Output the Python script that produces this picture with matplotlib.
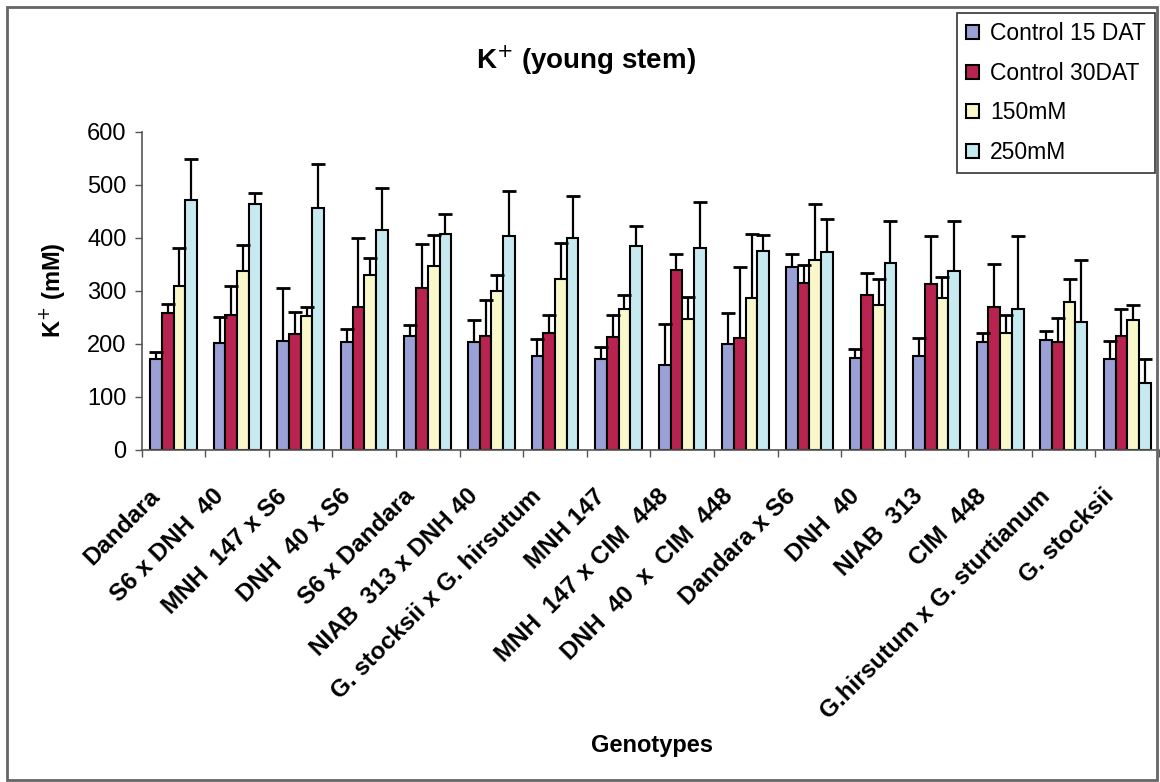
import numpy as np
import matplotlib
matplotlib.use('Agg')
import matplotlib.pyplot as plt
import matplotlib.transforms as mtransforms
from matplotlib.patches import Rectangle

plt.rcParams['font.family'] = ['Liberation Sans', 'DejaVu Sans']

genotypes = ['Dandara', 'S6 x DNH  40', 'MNH  147 x S6', 'DNH  40 x S6', 'S6 x Dandara',
             'NIAB  313 x DNH 40', 'G. stocksii x G. hirsutum', 'MNH 147',
             'MNH  147 x CIM  448', 'DNH  40  x  CIM  448', 'Dandara x S6', 'DNH  40',
             'NIAB  313', 'CIM  448', 'G.hirsutum x G. sturtianum', 'G. stocksii']

series = ['Control 15 DAT', 'Control 30DAT', '150mM', '250mM']
colors = ['#9ba1d6', '#b8244f', '#f8f8cb', '#c7eaf1']

ctrl15 = [171, 202, 205, 204, 214, 203, 178, 171, 160, 199, 344, 174, 177, 204, 207, 171]
ctrl15_sd = [13, 49, 100, 24, 21, 42, 32, 24, 77, 59, 25, 16, 34, 17, 18, 35]
ctrl30 = [258, 254, 218, 270, 305, 214, 220, 213, 339, 212, 314, 292, 312, 270, 203, 214]
ctrl30_sd = [17, 56, 43, 130, 84, 69, 34, 41, 30, 133, 35, 41, 91, 81, 45, 51]
salt150 = [310, 337, 252, 330, 347, 300, 322, 265, 247, 286, 359, 274, 287, 220, 278, 245]
salt150_sd = [70, 49, 18, 32, 59, 30, 69, 28, 42, 122, 104, 49, 39, 34, 44, 28]
salt250 = [471, 464, 457, 415, 407, 403, 399, 385, 380, 376, 373, 352, 337, 266, 242, 126]
salt250_sd = [77, 20, 83, 78, 37, 86, 79, 38, 87, 29, 62, 79, 94, 137, 116, 45]

values = [ctrl15, ctrl30, salt150, salt250]
sds = [ctrl15_sd, ctrl30_sd, salt150_sd, salt250_sd]

fig = plt.figure(figsize=(11.6, 7.82), dpi=100)
ax = fig.add_axes([0.1222, 0.4246, 0.8770, 0.4070])

x = np.arange(len(genotypes))
w = 0.184
for i, (vals, sd) in enumerate(zip(values, sds)):
    pos = x + (i - 1.5) * w
    ax.bar(pos, vals, width=w, color=colors[i], edgecolor='black', linewidth=1.5,
           label=series[i], zorder=2)
    eb = ax.errorbar(pos, vals, yerr=[np.zeros(len(sd)), sd], fmt='none', ecolor='black',
                     elinewidth=1.6, capsize=5, capthick=2, zorder=3)
    eb[1][0].set_visible(False)

ax.set_xlim(-0.5, len(genotypes) - 0.5)
ax.set_ylim(0, 600)
ax.set_yticks(range(0, 601, 100))
ax.tick_params(axis='y', labelsize=17, length=5, width=1, color='#555555', pad=6)
ax.set_xticks(x)
ax.set_xticklabels(genotypes, rotation=45, ha='right', va='top', rotation_mode='anchor',
                   fontsize=17.5, fontweight='bold')
ax.tick_params(axis='x', which='major', length=0, pad=25)
shift = mtransforms.ScaledTranslation(-0.25, 0, fig.dpi_scale_trans)
for lab in ax.get_xticklabels():
    lab.set_transform(lab.get_transform() + shift)
ax.set_xticks(np.arange(-0.5, len(genotypes)), minor=True)
ax.tick_params(axis='x', which='minor', length=5, width=1, color='#555555')

for s in ['top', 'right']:
    ax.spines[s].set_visible(False)
for s in ['left', 'bottom']:
    ax.spines[s].set_color('#555555')
    ax.spines[s].set_linewidth(1.2)

fig.text(0.505, 0.923, r'K$^{+}$ (young stem)', ha='center', va='center',
         fontsize=20, fontweight='bold')
fig.text(0.045, 0.629, r'K$^{+}$ (mM)', ha='center', va='center', rotation=90,
         fontsize=17, fontweight='bold')
fig.text(0.562, 0.047, 'Genotypes', ha='center', va='center', fontsize=17, fontweight='bold')

leg = fig.legend(loc='upper left', bbox_to_anchor=(0.825, 0.983), borderaxespad=0,
                 fontsize=16.5, frameon=True, fancybox=False, edgecolor='black',
                 handlelength=0.55, handleheight=0.55, handletextpad=0.5,
                 labelspacing=0.72, borderpad=0.4)
leg.get_frame().set_linewidth(1.2)

fig.patches.append(Rectangle((0.006, 0.002), 0.991, 0.989, transform=fig.transFigure,
                             fill=False, edgecolor='#666666', linewidth=2))

fig.savefig('out.png', dpi=100)
